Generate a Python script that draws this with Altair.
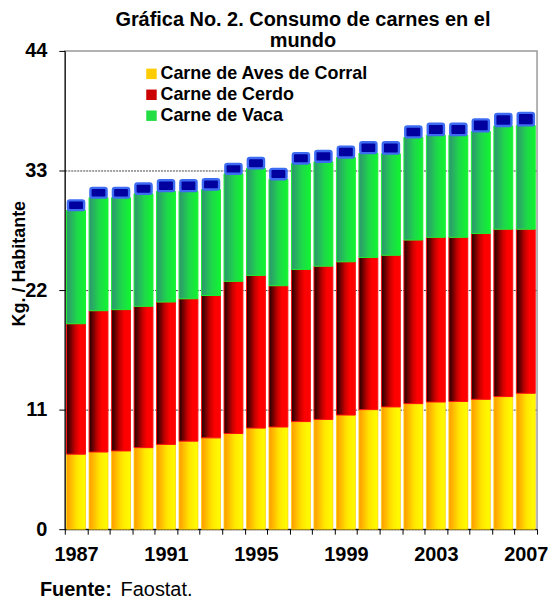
import altair as alt
import pandas as pd

years = list(range(1987, 2008))
# cumulative tops (Kg / habitante)
aves_top = [6.9, 7.1, 7.2, 7.5, 7.8, 8.1, 8.4, 8.8, 9.3, 9.4, 9.9, 10.1, 10.5, 11.0, 11.25, 11.55, 11.7, 11.75, 11.95, 12.2, 12.5]
cerdo_top = [18.9, 20.1, 20.2, 20.5, 20.9, 21.2, 21.5, 22.8, 23.35, 22.4, 23.9, 24.2, 24.6, 25.0, 25.2, 26.6, 26.85, 26.85, 27.2, 27.6, 27.6]
vaca_top = [29.35, 30.5, 30.5, 30.85, 31.1, 31.1, 31.25, 32.7, 33.2, 32.2, 33.65, 33.8, 34.2, 34.6, 34.55, 36.05, 36.25, 36.25, 36.6, 37.1, 37.15]
cap_top = [30.25, 31.4, 31.4, 31.8, 32.1, 32.1, 32.2, 33.6, 34.15, 33.15, 34.6, 34.8, 35.2, 35.6, 35.6, 37.05, 37.3, 37.3, 37.7, 38.2, 38.3]

series = ["Carne de Aves de Corral", "Carne de Cerdo", "Carne de Vaca"]
legend_colors = ["#ffcc00", "#cc0000", "#22dd44"]
y_ticks = [0, 11, 22, 33, 44]

df = pd.DataFrame({"year": years, "aves": aves_top, "cerdo": cerdo_top,
                   "vaca": vaca_top, "tope": cap_top})
df_leg = pd.DataFrame({"year": years[:3], "serie": series, "v": [0, 0, 0]})

FONT = "Liberation Sans"

def grad(stops):
    return alt.Gradient(gradient="linear", x1=0, x2=1, y1=0, y2=0,
                        stops=[alt.GradientStop(color=c, offset=o) for o, c in stops])

y_axis = alt.Axis(values=y_ticks, title="Kg. / Habitante", grid=True,
                  gridDash=[2, 1], gridColor="#444444",
                  gridOpacity={"condition": {"test": "datum.value == 44", "value": 0}, "value": 1},
                  tickSize=6, tickColor="black", domainColor="black",
                  labelPadding=12, titleX=-36, titleY=213, titleAngle=270,
                  titleFontSize=18)
y_scale = alt.Scale(domain=[0, 44], nice=False)

x_enc = alt.X("year:O",
              scale=alt.Scale(paddingInner=0, paddingOuter=0),
              axis=alt.Axis(title=None, labelAngle=0, tickBand="extent", tickSize=5,
                            tickColor="black", domainColor="black", labelPadding=10,
                            labelOverlap=False,
                            labelExpr="(datum.value - 1987) % 4 == 0 ? datum.label : ''"))

base = alt.Chart(df).encode(x=x_enc)

BW = {"band": 0.84}
yellow = base.mark_bar(width=BW,
                       fill=grad([(0, "#ff9a00"), (0.55, "#ffe600"), (1, "#ffff00")]),
                       stroke="#ffd000", strokeWidth=0.8).encode(
    y=alt.Y("aves:Q", scale=y_scale, axis=y_axis))
red = base.mark_bar(width=BW,
                    fill=grad([(0, "#1e0000"), (0.45, "#c80000"), (0.7, "#ff0000"), (1, "#ff0000")]),
                    stroke="#ff1010", strokeWidth=1).encode(
    y=alt.Y("cerdo:Q", scale=y_scale, axis=y_axis), y2="aves")
green = base.mark_bar(width=BW,
                      fill=grad([(0, "#2e9470"), (0.55, "#1ed84a"), (1, "#10f530")]),
                      stroke="#18f030", strokeWidth=1).encode(
    y=alt.Y("vaca:Q", scale=y_scale, axis=y_axis), y2="cerdo")
cap = base.mark_bar(width={"band": 0.72}, fill="#00009e", stroke="#3d6cf2",
                    strokeWidth=2.4, cornerRadius=2).encode(
    y=alt.Y("tope:Q", scale=y_scale, axis=y_axis), y2="vaca")

legend_layer = alt.Chart(df_leg).mark_square(opacity=0, size=1).encode(
    x=alt.X("year:O"),
    y=alt.Y("v:Q", scale=y_scale, axis=y_axis),
    color=alt.Color("serie:N",
                    scale=alt.Scale(domain=series, range=legend_colors),
                    legend=alt.Legend(title=None, orient="none", legendX=78, legendY=14,
                                      symbolType="square", symbolSize=110,
                                      symbolOpacity=1, symbolStrokeWidth=0,
                                      labelFont=FONT, labelFontWeight="bold",
                                      labelFontSize=18, labelColor="black",
                                      labelLimit=0, rowPadding=3, padding=0,
                                      labelOffset=0)))

src_df = pd.DataFrame({"t": ["x"]})
fuente_b = alt.Chart(src_df).mark_text(text="Fuente:", font=FONT, fontWeight="bold",
                                       fontSize=20, align="left", baseline="alphabetic",
                                       color="black").encode(x=alt.value(-25), y=alt.value(547))
fuente_r = alt.Chart(src_df).mark_text(text="Faostat.", font=FONT, fontWeight="normal",
                                       fontSize=20, align="left", baseline="alphabetic",
                                       color="black").encode(x=alt.value(56), y=alt.value(547))

chart = alt.layer(yellow, red, green, cap, legend_layer, fuente_b, fuente_r).properties(
    width=474, height=480,
    autosize=alt.AutoSizeParams(type="none"),
    padding={"left": 57, "top": 42, "right": 12, "bottom": 72},
    title=alt.Title(["Gráfica No. 2. Consumo de carnes en el", "mundo"],
                    font=FONT, fontSize=20, fontWeight="bold", color="black",
                    anchor="middle", dx=2, offset=-10, lineHeight=21),
).configure_view(stroke="#999999", strokeWidth=1.5).configure_axis(
    labelFont=FONT, labelFontWeight="bold", labelFontSize=20, labelColor="black",
    titleFont=FONT, titleFontWeight="bold", titleColor="black"
)

chart.save("out.html", embed_options={"renderer": "svg", "actions": False})
